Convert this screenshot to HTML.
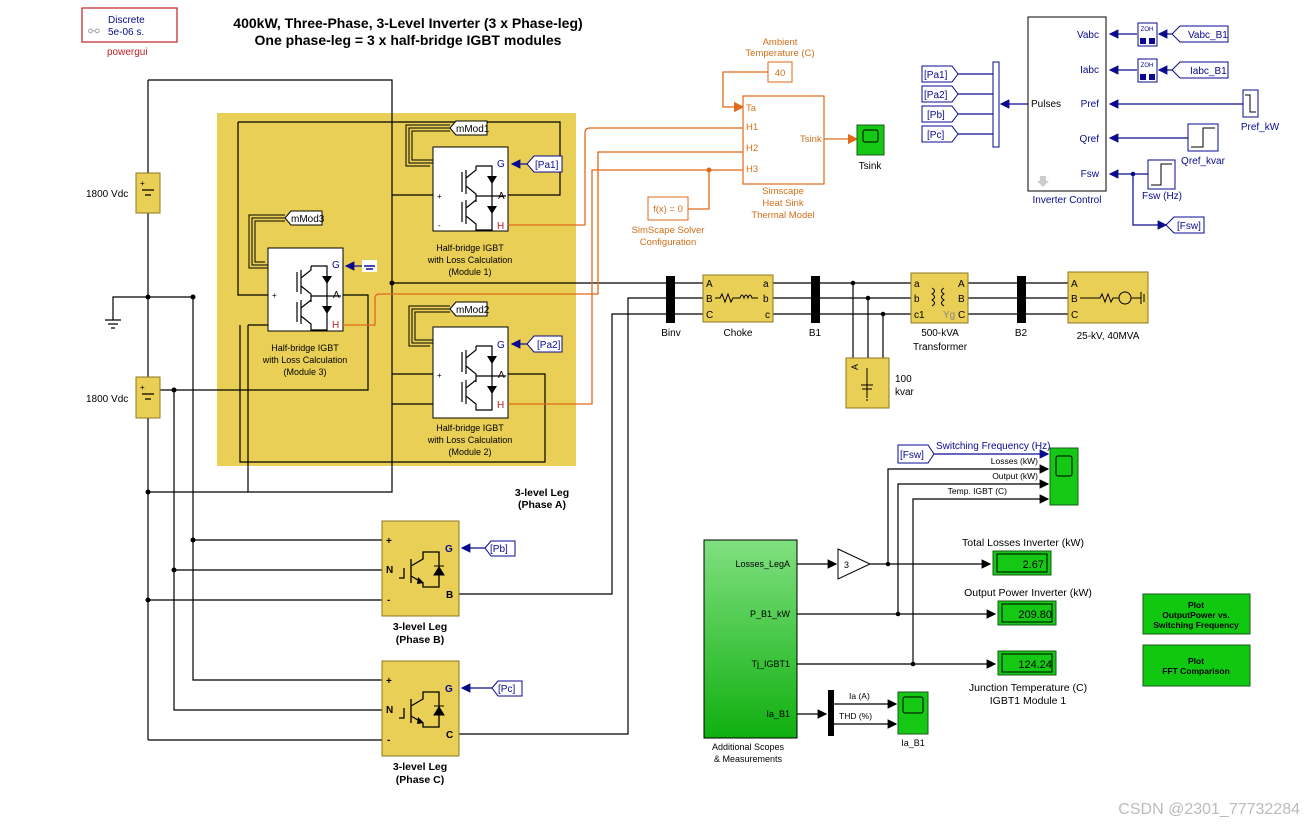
<!DOCTYPE html>
<html><head><meta charset="utf-8"><style>
html,body{margin:0;padding:0;background:#fff}
svg{display:block;font-family:"Liberation Sans",sans-serif}
.w{stroke:#000;stroke-width:1.2;fill:none}
.o{stroke:#e06a1a;stroke-width:1.3;fill:none}
.b{stroke:#0a0a90;stroke-width:1.2;fill:none}
.t{font-size:10px;fill:#000}
.tb{font-size:10px;fill:#0a0a90}
.to{font-size:9.5px;fill:#d0701a}
.yl{fill:#e9cf55;stroke:#8a7a20;stroke-width:1}
.gr{fill:#14c814;stroke:#1a5a1a;stroke-width:1}
.tag{fill:#fff;stroke:#0a0a90;stroke-width:1}
</style></head><body>
<svg width="1315" height="828" viewBox="0 0 1315 828">
<defs>
<marker id="ab" markerWidth="8" markerHeight="8" refX="7" refY="4" orient="auto"><path d="M0,0 L8,4 L0,8z" fill="#0a0a90"/></marker>
<marker id="ak" markerWidth="8" markerHeight="8" refX="7" refY="4" orient="auto"><path d="M0,0 L8,4 L0,8z" fill="#000"/></marker>
<marker id="ao" markerWidth="8" markerHeight="8" refX="7" refY="4" orient="auto"><path d="M0,0 L8,4 L0,8z" fill="#e06a1a"/></marker>
<g id="igbt">
<path d="M22,14 v20 M26,12 v24 M26,20 L36,12 v-4 M26,28 L36,36 v8 M36,8 h16 v30 h-16 M52,38 v0 M22,44 v20 M26,42 v24 M26,50 L36,42 M26,58 L36,66 v6 h16 v-34 M36,38 v4 M36,38 h30" stroke="#000" stroke-width="1.2" fill="none"/>
<path d="M47,18 l5,8 l5,-8z M47,48 l5,8 l5,-8z" fill="#000"/>
</g>
<g id="ig1">
<path d="M17,57 h5 v-10 M29,38 v24 M29,45 L41,38 v-7 h16 v35 h-16 v-4 L29,55" stroke="#000" stroke-width="1.3" fill="none"/>
<path d="M52,54 l5,-8 l5,8z M52,45 h10" fill="#000" stroke="#000"/>
<path d="M36,56 l6,6 l-7,1z" fill="#000"/>
</g>
</defs>

<!-- powergui -->
<rect x="82" y="8" width="95" height="34" fill="#fff" stroke="#c02020" stroke-width="1.2"/>
<text x="108" y="23" class="tb" font-size="11">Discrete</text>
<text x="108" y="35" class="tb" font-size="11">5e-06 s.</text>
<text x="88" y="36" font-size="14" fill="#aaa">⚯</text>
<text x="107" y="55" font-size="10" fill="#c02020">powergui</text>

<text x="408" y="28" text-anchor="middle" font-size="14" font-weight="bold">400kW, Three-Phase, 3-Level Inverter (3 x Phase-leg)</text>
<text x="408" y="45" text-anchor="middle" font-size="14" font-weight="bold">One phase-leg = 3 x half-bridge IGBT modules</text>

<rect x="217" y="113" width="359" height="353" fill="#e9cf55"/>
<text x="542" y="496" text-anchor="middle" font-size="10.5" font-weight="bold">3-level Leg</text>
<text x="542" y="508" text-anchor="middle" font-size="10.5" font-weight="bold">(Phase A)</text>

<g class="w">
<path d="M148,80 H392 V195 H433"/>
<path d="M148,80 V173 M148,213 V377 M148,418 V740"/>
<path d="M238,122 H560 V195 H508"/>
<path d="M238,122 V295 H268"/>
<path d="M148,297 H113 V320"/>
<path d="M105,320 H121 M108,324 H118 M111,328 H115"/>
<path d="M148,297 H193"/>
<path d="M160,390 H368 V295 H343"/>
<path d="M392,195 V404 H433"/>
<path d="M392,283 H668"/>
<path d="M248,325 H268 M248,325 V492 H392 V404"/>
<path d="M148,492 H248"/>
<path d="M392,374 H433 M508,374 H545 V462 H240 V325"/>
<path d="M174,390 V710 H382 M174,570 H382"/>
<path d="M193,297 V680 H382 M193,540 H382"/>
<path d="M148,600 H382 M148,740 H382"/>
<path d="M459,594 H612 V314 H668"/>
<path d="M459,734 H628 V298 H668"/>
</g>
<g fill="#000"><circle cx="392" cy="283" r="2.5"/><circle cx="148" cy="297" r="2.5"/><circle cx="193" cy="540" r="2.5"/><circle cx="174" cy="570" r="2.5"/><circle cx="148" cy="600" r="2.5"/><circle cx="148" cy="492" r="2.5"/><circle cx="174" cy="390" r="2.5"/><circle cx="193" cy="297" r="2.5"/></g>

<rect x="136" y="173" width="24" height="40" class="yl"/>
<path d="M142,190 h12 M145,195 h6" stroke="#000" stroke-width="1.3"/>
<text x="140" y="186" font-size="8">+</text>
<text x="86" y="197" class="t">1800 Vdc</text>
<rect x="136" y="377" width="24" height="41" class="yl"/>
<path d="M142,394 h12 M145,399 h6" stroke="#000" stroke-width="1.3"/>
<text x="140" y="390" font-size="8">+</text>
<text x="86" y="402" class="t">1800 Vdc</text>

<g stroke="#000" fill="none" stroke-width="1">
<path d="M433,163 H409 V128 H450 M436,160 H412 V131 H450 M430,166 H406 V125 H450"/>
<path d="M268,265 H252 V218 H285 M265,262 H255 V221 H285 M271,268 H249 V215 H285"/>
<path d="M433,343 H412 V309 H450 M436,340 H415 V312 H450 M430,346 H409 V306 H450"/>
</g>
<g><path d="M450,128 l6,-7 h31 v14 h-31z" fill="#fff" stroke="#000"/><path d="M285,218 l6,-7 h31 v14 h-31z" fill="#fff" stroke="#000"/><path d="M450,309 l6,-7 h31 v14 h-31z" fill="#fff" stroke="#000"/></g>
<text x="456" y="132" class="t">mMod1</text><text x="291" y="222" class="t">mMod3</text><text x="456" y="313" class="t">mMod2</text>

<g>
<rect x="433" y="147" width="75" height="84" fill="#fff" stroke="#000"/>
<use href="#igbt" x="440" y="158"/>
<text x="497" y="167" class="tb">G</text><text x="498" y="199" class="t">A</text><text x="497" y="229" font-size="10" fill="#c02020">H</text>
<text x="437" y="199" font-size="8">+</text><text x="438" y="228" font-size="8">-</text>
<text x="470" y="251" text-anchor="middle" font-size="9">Half-bridge IGBT</text><text x="470" y="263" text-anchor="middle" font-size="9">with Loss Calculation</text><text x="470" y="275" text-anchor="middle" font-size="9">(Module 1)</text>

<rect x="268" y="248" width="75" height="83" fill="#fff" stroke="#000"/>
<use href="#igbt" x="275" y="258"/>
<text x="332" y="268" class="tb">G</text><text x="333" y="298" class="t">A</text><text x="332" y="328" font-size="10" fill="#c02020">H</text>
<text x="272" y="298" font-size="8">+</text>
<text x="305" y="351" text-anchor="middle" font-size="9">Half-bridge IGBT</text><text x="305" y="363" text-anchor="middle" font-size="9">with Loss Calculation</text><text x="305" y="375" text-anchor="middle" font-size="9">(Module 3)</text>

<rect x="433" y="327" width="75" height="91" fill="#fff" stroke="#000"/>
<use href="#igbt" x="440" y="338"/>
<text x="497" y="348" class="tb">G</text><text x="498" y="378" class="t">A</text><text x="497" y="408" font-size="10" fill="#c02020">H</text>
<text x="437" y="378" font-size="8">+</text>
<text x="470" y="431" text-anchor="middle" font-size="9">Half-bridge IGBT</text><text x="470" y="443" text-anchor="middle" font-size="9">with Loss Calculation</text><text x="470" y="455" text-anchor="middle" font-size="9">(Module 2)</text>
</g>
<rect x="362" y="260" width="15" height="12" fill="#fff"/><path d="M364,266 h11 M366,269 h7" stroke="#0a0a90" stroke-width="1.5"/>
<path class="b" d="M362,266 H346" marker-end="url(#ab)"/>
<path class="b" d="M527,164 H512" marker-end="url(#ab)"/>
<path class="b" d="M527,344 H512" marker-end="url(#ab)"/>
<path d="M527,164 l7,-8 h28 v16 h-28z M527,344 l7,-8 h28 v16 h-28z" class="tag"/>
<text x="535" y="168" class="tb">[Pa1]</text><text x="537" y="348" class="tb">[Pa2]</text>

<path class="o" d="M508,225 H585 V133 Q585,128 590,128 H743"/>
<path class="o" d="M343,325 H375 V298 Q375,294 380,294 H598 V152 H743"/>
<path class="o" d="M508,404 H592 V170 H743"/>
<path class="o" d="M780,72 H723 V107 H743" marker-end="url(#ao)"/>
<path class="o" d="M688,209 H709 V170"/>
<circle cx="709" cy="170" r="2.5" fill="#e06a1a"/>
<path class="o" d="M824,139 H857" marker-end="url(#ao)"/>

<rect x="743" y="96" width="81" height="88" fill="#fff" stroke="#e06a1a" stroke-width="1.2"/>
<text x="746" y="111" class="to">Ta</text><text x="746" y="130" class="to">H1</text><text x="746" y="151" class="to">H2</text><text x="746" y="172" class="to">H3</text>
<text x="800" y="142" class="to">Tsink</text>
<text x="783" y="194" text-anchor="middle" class="to">Simscape</text><text x="783" y="206" text-anchor="middle" class="to">Heat Sink</text><text x="783" y="218" text-anchor="middle" class="to">Thermal Model</text>
<rect x="768" y="62" width="24" height="20" fill="#fff" stroke="#e06a1a"/><text x="780" y="76" text-anchor="middle" class="to">40</text>
<text x="780" y="45" text-anchor="middle" class="to">Ambient</text><text x="780" y="56" text-anchor="middle" class="to">Temperature (C)</text>
<rect x="648" y="197" width="40" height="23" fill="#fff" stroke="#e06a1a"/><text x="668" y="212" text-anchor="middle" class="to">f(x) = 0</text>
<text x="668" y="233" text-anchor="middle" class="to">SimScape Solver</text><text x="668" y="245" text-anchor="middle" class="to">Configuration</text>
<rect x="857" y="125" width="27" height="30" class="gr"/><rect x="863" y="130" width="15" height="12" rx="2" fill="none" stroke="#000"/>
<text x="870" y="169" text-anchor="middle" class="t">Tsink</text>

<g class="w">
<path d="M675,283 H703 M675,298 H703 M675,314 H703"/>
<path d="M773,283 H811 M773,298 H811 M773,314 H811"/>
<path d="M819,283 H911 M819,298 H911 M819,314 H911"/>
<path d="M968,283 H1017 M968,298 H1017 M968,314 H1017"/>
<path d="M1025,283 H1068 M1025,298 H1068 M1025,314 H1068"/>
<path d="M853,283 V358 M868,298 V358 M883,314 V358"/>
</g>
<g fill="#000"><circle cx="853" cy="283" r="2.3"/><circle cx="868" cy="298" r="2.3"/><circle cx="883" cy="314" r="2.3"/></g>
<rect x="666" y="276" width="9" height="47" fill="#000"/><rect x="811" y="276" width="9" height="47" fill="#000"/><rect x="1017" y="276" width="9" height="47" fill="#000"/>
<text x="671" y="336" text-anchor="middle" class="t">Binv</text><text x="815" y="336" text-anchor="middle" class="t">B1</text><text x="1021" y="336" text-anchor="middle" class="t">B2</text>
<rect x="703" y="275" width="70" height="47" class="yl"/>
<text x="706" y="287" class="t">A</text><text x="706" y="302" class="t">B</text><text x="706" y="318" class="t">C</text><text x="763" y="287" class="t">a</text><text x="763" y="302" class="t">b</text><text x="765" y="318" class="t">c</text>
<path d="M715,298 h5 l2,-4 3,8 3,-8 3,8 2,-4 h7 q2,-6 4,0 q2,-6 4,0 q2,-6 4,0 h6" stroke="#000" fill="none"/>
<text x="738" y="336" text-anchor="middle" class="t">Choke</text>
<rect x="911" y="273" width="57" height="50" class="yl"/>
<text x="914" y="287" class="t">a</text><text x="914" y="302" class="t">b</text><text x="914" y="318" class="t">c1</text><text x="958" y="287" class="t">A</text><text x="958" y="302" class="t">B</text><text x="958" y="318" class="t">C</text>
<text x="943" y="318" font-size="10" fill="#888">Yg</text>
<path d="M932,288 q5,3 0,6 q5,3 0,6 q5,3 0,6 M944,288 q-5,3 0,6 q-5,3 0,6 q-5,3 0,6" stroke="#000" fill="none"/>
<text x="940" y="336" text-anchor="middle" class="t">500-kVA</text><text x="940" y="350" text-anchor="middle" class="t">Transformer</text>
<rect x="1068" y="272" width="80" height="51" class="yl"/>
<text x="1071" y="287" class="t">A</text><text x="1071" y="302" class="t">B</text><text x="1071" y="318" class="t">C</text>
<path d="M1080,298 h20 l2,-4 3,8 3,-8 3,8 2,-4 h6 M1131,298 h10 M1141,292 v12 M1144,294 v8" stroke="#000" fill="none"/>
<circle cx="1125" cy="298" r="6" fill="none" stroke="#000"/>
<text x="1108" y="339" text-anchor="middle" class="t">25-kV, 40MVA</text>
<rect x="846" y="358" width="43" height="50" class="yl"/>
<text x="858" y="370" font-size="9" transform="rotate(-90 858 370)">A</text>
<path d="M867,368 v30 M861,385 h12 M862,389 h10 M866,400 h2" stroke="#000" fill="none"/>
<text x="895" y="382" class="t">100</text><text x="895" y="395" class="t">kvar</text>

<rect x="1028" y="17" width="78" height="174" fill="#fff" stroke="#000"/>
<text x="1099" y="38" text-anchor="end" class="tb" font-size="9">Vabc</text>
<text x="1099" y="73" text-anchor="end" class="tb" font-size="9">Iabc</text>
<text x="1099" y="107" text-anchor="end" class="tb" font-size="9">Pref</text>
<text x="1099" y="142" text-anchor="end" class="tb" font-size="9">Qref</text>
<text x="1099" y="177" text-anchor="end" class="tb" font-size="9">Fsw</text>
<text x="1031" y="107" class="t" font-size="9">Pulses</text>
<text x="1067" y="203" text-anchor="middle" class="tb" font-size="9">Inverter Control</text>
<path d="M1040,176 h6 v5 h3 l-6,6 -6,-6 h3z" fill="#ccc"/>
<rect x="993" y="62" width="6" height="85" fill="#fff" stroke="#0a0a90"/>
<path class="b" d="M1028,104 H1001" marker-end="url(#ab)"/>
<path class="b" d="M993,74 H958 M993,94 H958 M993,114 H958 M993,134 H958"/>
<path d="M922,66 h30 l6,8 -6,8 h-30z M922,86 h30 l6,8 -6,8 h-30z M922,106 h30 l6,8 -6,8 h-30z M922,126 h30 l6,8 -6,8 h-30z" class="tag"/>
<text x="924" y="78" class="tb">[Pa1]</text><text x="924" y="98" class="tb">[Pa2]</text><text x="927" y="118" class="tb">[Pb]</text><text x="927" y="138" class="tb">[Pc]</text>
<g class="b"><path d="M1137,34 H1110" marker-end="url(#ab)"/><path d="M1137,70 H1110" marker-end="url(#ab)"/>
<path d="M1172,34 H1159" marker-end="url(#ab)"/><path d="M1172,70 H1159" marker-end="url(#ab)"/>
<path d="M1243,104 H1110" marker-end="url(#ab)"/><path d="M1188,138 H1110" marker-end="url(#ab)"/><path d="M1148,174 H1110" marker-end="url(#ab)"/>
<path d="M1133,174 V225 H1166" marker-end="url(#ab)"/></g>
<circle cx="1133" cy="174" r="2.3" fill="#0a0a90"/>
<rect x="1138" y="23" width="19" height="23" fill="#fff" stroke="#0a0a90"/><rect x="1138" y="59" width="19" height="23" fill="#fff" stroke="#0a0a90"/>
<text x="1147" y="31" text-anchor="middle" font-size="6" fill="#0a0a90">ZOH</text><text x="1147" y="67" text-anchor="middle" font-size="6" fill="#0a0a90">ZOH</text>
<rect x="1140" y="38" width="6" height="6" fill="#0a0a90"/><rect x="1149" y="38" width="6" height="6" fill="#0a0a90"/><rect x="1140" y="74" width="6" height="6" fill="#0a0a90"/><rect x="1149" y="74" width="6" height="6" fill="#0a0a90"/>
<path d="M1172,34 l8,-8 h48 v16 h-48z M1172,70 l8,-8 h48 v16 h-48z M1166,225 l8,-8 h30 v16 h-30z" class="tag"/>
<text x="1188" y="38" class="tb">Vabc_B1</text><text x="1190" y="74" class="tb">Iabc_B1</text><text x="1177" y="229" class="tb">[Fsw]</text>
<rect x="1243" y="90" width="15" height="27" fill="#fff" stroke="#0a0a90"/><path d="M1245,95 h5 v17 h6" stroke="#000" fill="none"/>
<text x="1260" y="130" text-anchor="middle" class="tb" font-size="9">Pref_kW</text>
<rect x="1188" y="124" width="30" height="27" fill="#fff" stroke="#0a0a90"/><path d="M1191,147 h12 v-19 h12" stroke="#000" fill="none"/>
<text x="1203" y="164" text-anchor="middle" class="tb" font-size="9">Qref_kvar</text>
<rect x="1148" y="160" width="27" height="29" fill="#fff" stroke="#0a0a90"/><path d="M1151,185 h10 v-21 h11" stroke="#000" fill="none"/>
<text x="1162" y="199" text-anchor="middle" class="tb" font-size="9">Fsw (Hz)</text>

<g>
<rect x="382" y="521" width="77" height="95" class="yl"/>
<text x="386" y="544" font-size="10" font-weight="bold">+</text><text x="386" y="573" font-size="10" font-weight="bold">N</text><text x="387" y="603" font-size="10" font-weight="bold">-</text>
<text x="445" y="552" font-size="10" font-weight="bold" fill="#0a0a90">G</text><text x="446" y="598" font-size="10" font-weight="bold">B</text>
<use href="#ig1" x="382" y="521"/>
<text x="420" y="630" text-anchor="middle" font-size="10.5" font-weight="bold">3-level Leg</text><text x="420" y="643" text-anchor="middle" font-size="10.5" font-weight="bold">(Phase B)</text>
<rect x="382" y="661" width="77" height="95" class="yl"/>
<text x="386" y="684" font-size="10" font-weight="bold">+</text><text x="386" y="713" font-size="10" font-weight="bold">N</text><text x="387" y="743" font-size="10" font-weight="bold">-</text>
<text x="445" y="692" font-size="10" font-weight="bold" fill="#0a0a90">G</text><text x="446" y="738" font-size="10" font-weight="bold">C</text>
<use href="#ig1" x="382" y="661"/>
<text x="420" y="770" text-anchor="middle" font-size="10.5" font-weight="bold">3-level Leg</text><text x="420" y="783" text-anchor="middle" font-size="10.5" font-weight="bold">(Phase C)</text>
</g>
<path class="b" d="M485,548 H462" marker-end="url(#ab)"/><path class="b" d="M492,688 H462" marker-end="url(#ab)"/>
<path d="M485,548 l6,-7 h24 v15 h-24z M492,688 l6,-7 h24 v15 h-24z" class="tag"/>
<text x="490" y="552" class="tb">[Pb]</text><text x="498" y="692" class="tb">[Pc]</text>

<defs><linearGradient id="gg" x1="0" y1="0" x2="0" y2="1"><stop offset="0" stop-color="#80e080"/><stop offset="1" stop-color="#10b010"/></linearGradient></defs>
<rect x="704" y="540" width="93" height="198" fill="url(#gg)" stroke="#000"/>
<text x="790" y="567" text-anchor="end" font-size="9">Losses_LegA</text><text x="790" y="617" text-anchor="end" font-size="9">P_B1_kW</text><text x="790" y="667" text-anchor="end" font-size="9">Tj_IGBT1</text><text x="790" y="717" text-anchor="end" font-size="9">Ia_B1</text>
<text x="748" y="750" text-anchor="middle" font-size="9">Additional Scopes</text><text x="748" y="762" text-anchor="middle" font-size="9">&amp; Measurements</text>
<g class="w" stroke-width="1">
<path d="M797,564 H836" marker-end="url(#ak)"/>
<path d="M870,564 H990" marker-end="url(#ak)"/>
<path d="M797,614 H995" marker-end="url(#ak)"/>
<path d="M797,664 H995" marker-end="url(#ak)"/>
<path d="M888,564 V469 H1048" marker-end="url(#ak)"/>
<path d="M898,614 V484 H1048" marker-end="url(#ak)"/>
<path d="M913,664 V499 H1048" marker-end="url(#ak)"/>
<path d="M797,714 H826" marker-end="url(#ak)"/>
<path d="M834,704 H896" marker-end="url(#ak)"/><path d="M834,724 H896" marker-end="url(#ak)"/>
</g>
<g fill="#000"><circle cx="888" cy="564" r="2.3"/><circle cx="898" cy="614" r="2.3"/><circle cx="913" cy="664" r="2.3"/></g>
<path d="M838,549 L870,564 L838,579z" fill="#fff" stroke="#000"/><text x="844" y="568" font-size="9">3</text>
<path class="b" d="M933,454 H1048" marker-end="url(#ab)"/>
<path d="M898,445 h30 l6,9 -6,9 h-30z" class="tag"/><text x="900" y="458" class="tb">[Fsw]</text>
<text x="936" y="449" class="tb" font-size="8.5">Switching Frequency (Hz)</text>
<text x="1038" y="464" text-anchor="end" font-size="8.5">Losses (kW)</text><text x="1038" y="479" text-anchor="end" font-size="8.5">Output (kW)</text><text x="1007" y="494" text-anchor="end" font-size="8.5">Temp. IGBT (C)</text>
<rect x="1050" y="448" width="28" height="57" class="gr"/><rect x="1056" y="456" width="16" height="20" rx="2" fill="none" stroke="#000"/>
<rect x="993" y="551" width="58" height="24" class="gr"/><rect x="997" y="554" width="50" height="18" fill="none" stroke="#000"/><text x="1044" y="568" text-anchor="end" font-size="11">2.67</text>
<rect x="998" y="601" width="58" height="24" class="gr"/><rect x="1002" y="604" width="50" height="18" fill="none" stroke="#000"/><text x="1052" y="618" text-anchor="end" font-size="11">209.80</text>
<rect x="998" y="651" width="58" height="24" class="gr"/><rect x="1002" y="654" width="50" height="18" fill="none" stroke="#000"/><text x="1052" y="668" text-anchor="end" font-size="11">124.24</text>
<text x="1023" y="546" text-anchor="middle" font-size="10.5">Total Losses Inverter (kW)</text>
<text x="1028" y="596" text-anchor="middle" font-size="10.5">Output Power Inverter (kW)</text>
<text x="1028" y="691" text-anchor="middle" font-size="10.5">Junction Temperature (C)</text>
<text x="1028" y="704" text-anchor="middle" font-size="10.5">IGBT1 Module 1</text>
<rect x="828" y="690" width="6" height="46" fill="#000"/>
<text x="849" y="699" font-size="8.5">Ia (A)</text><text x="839" y="719" font-size="8.5">THD (%)</text>
<rect x="898" y="692" width="30" height="42" class="gr"/><rect x="903" y="697" width="20" height="16" rx="2" fill="none" stroke="#000"/>
<text x="913" y="746" text-anchor="middle" font-size="9">Ia_B1</text>
<rect x="1143" y="594" width="107" height="40" fill="#10c810" stroke="#1a5a1a"/>
<text x="1196" y="608" text-anchor="middle" font-size="8.5" font-weight="bold">Plot</text><text x="1196" y="618" text-anchor="middle" font-size="8.5" font-weight="bold">OutputPower vs.</text><text x="1196" y="628" text-anchor="middle" font-size="8.5" font-weight="bold">Switching Frequency</text>
<rect x="1143" y="645" width="107" height="41" fill="#10c810" stroke="#1a5a1a"/>
<text x="1196" y="664" text-anchor="middle" font-size="8.5" font-weight="bold">Plot</text><text x="1196" y="674" text-anchor="middle" font-size="8.5" font-weight="bold">FFT Comparison</text>
<text x="1300" y="814" text-anchor="end" font-size="16" fill="#bbb">CSDN @2301_77732284</text>
</svg>
</body></html>
